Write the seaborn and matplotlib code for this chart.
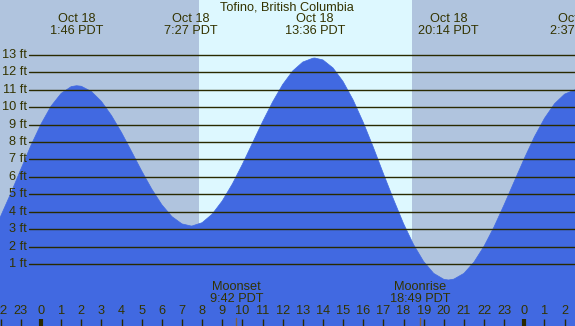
import numpy as np
import pandas as pd
import matplotlib
matplotlib.use("Agg")
import matplotlib.pyplot as plt
import seaborn as sns

# ---- data (hours from midnight Oct 18, PDT; heights in ft) ----
hours = [-2.5, -2.0, -1.5, -1.0, -0.5, 0.0, 0.5, 1.0, 1.5, 1.767,
         2.0, 2.5, 3.0, 3.5, 4.0, 4.5, 5.0, 5.5, 6.0, 6.5, 7.0, 7.45,
         7.5, 8.0, 8.5, 9.0, 9.5, 10.0, 10.5, 11.0, 11.5, 12.0, 12.5, 13.0, 13.5, 13.6,
         14.0, 14.5, 15.0, 15.5, 16.0, 16.5, 17.0, 17.5, 18.0, 18.5, 19.0, 19.5, 20.0, 20.233,
         20.5, 21.0, 21.5, 22.0, 22.5, 23.0, 23.5, 24.0, 24.5, 25.0, 25.5, 26.0, 26.5, 26.617]
heights = [2.61, 3.75, 5.05, 6.44, 7.80, 9.03, 10.06, 10.79, 11.18, 11.23,
           11.20, 10.90, 10.33, 9.52, 8.54, 7.45, 6.34, 5.30, 4.40, 3.72, 3.30, 3.18,
           3.18, 3.37, 3.86, 4.62, 5.59, 6.72, 7.94, 9.16, 10.30, 11.30, 12.08, 12.59, 12.81, 12.82,
           12.71, 12.25, 11.47, 10.41, 9.13, 7.70, 6.19, 4.72, 3.32, 2.11, 1.14, 0.46, 0.12, 0.08,
           0.13, 0.46, 1.11, 2.02, 3.14, 4.41, 5.74, 7.06, 8.30, 9.36, 10.20, 10.75, 10.99, 11.00]

extreme_times = [1.767, 7.45, 13.6, 20.233, 26.617]
extreme_labels = ["Oct 18\n1:46 PDT", "Oct 18\n7:27 PDT", "Oct 18\n13:36 PDT",
                  "Oct 18\n20:14 PDT", "Oct 18\n2:37 PDT"]
sunrise, sunset = 7.85, 18.42
moon_times = [9.7, 18.817]
moon_labels = ["Moonset\n9:42 PDT", "Moonrise\n18:49 PDT"]
ft_levels = list(range(1, 14))
hour_ticks = list(range(-2, 27))
hour_labels = [str(h % 24) for h in hour_ticks]
title = "Tofino, British Columbia"

# ---- drawing ----
sns.set_theme(style="white")
plt.rcParams['font.family'] = ['Liberation Sans', 'DejaVu Sans']

W, H = 575, 326
fig = plt.figure(figsize=(W / 100, H / 100), dpi=100)
ax = fig.add_axes([0, 0, 1, 1])
x0, x1 = -2.036, 26.515
y0, y1 = -2.56, 16.15
ax.set_xlim(x0, x1)
ax.set_ylim(y0, y1)
ax.set_facecolor("#B0C4DE")
for s in ax.spines.values():
    s.set_visible(False)
ax.set_xticks([])
ax.set_yticks([])

ax.axvspan(sunrise, sunset, color="#DDF8FF", lw=0, zorder=1)

df = pd.DataFrame({"hour": hours, "height": heights})
ax.fill_between(df["hour"], df["height"], y0 - 1, color="#4169E1", lw=0, zorder=2)
sns.lineplot(data=df, x="hour", y="height", ax=ax, color="#4169E1", lw=0.5, zorder=2)

txtcol = "#333300"
fs = 9.2
px_x = (x1 - x0) / W
px_y = (y1 - y0) / H

# horizontal ft lines
line_start = x0 + 29 * px_x
for lv in ft_levels:
    ax.plot([line_start, x1], [lv, lv], color="#2A2A00", lw=1.0, zorder=3)
    ax.text(x0 + 27 * px_x, lv, f"{lv} ft", ha="right", va="center",
            fontsize=fs, color=txtcol, zorder=4)

# title
ax.text(x0 + 287 * px_x, y1 - 8 * px_y, title, ha="center", va="center",
        fontsize=fs, color=txtcol, zorder=4)

# extreme labels
for t, lab in zip(extreme_times, extreme_labels):
    ax.text(t, y1 - 25 * px_y, lab, ha="center", va="center", fontsize=fs,
            color=txtcol, linespacing=0.95, zorder=4)

# moon labels and ticks
for t, lab in zip(moon_times, moon_labels):
    ax.text(t, y1 - 293 * px_y, lab, ha="center", va="center", fontsize=fs,
            color=txtcol, linespacing=0.95, zorder=4)
    ax.plot([t, t], [y0, y0 + 8 * px_y], color="#806040", lw=1.0, zorder=4)

# hour labels and ticks
for h, lab in zip(hour_ticks, hour_labels):
    ax.text(h, y1 - 311.5 * px_y, lab, ha="center", va="center", fontsize=fs,
            color=txtcol, zorder=4)
    lw = 3.0 if h % 24 == 0 else 1.0
    ax.plot([h, h], [y0, y0 + 7 * px_y], color="#2A2A00", lw=lw, zorder=4,
            solid_capstyle="butt")

fig.savefig("out.png", dpi=100)
